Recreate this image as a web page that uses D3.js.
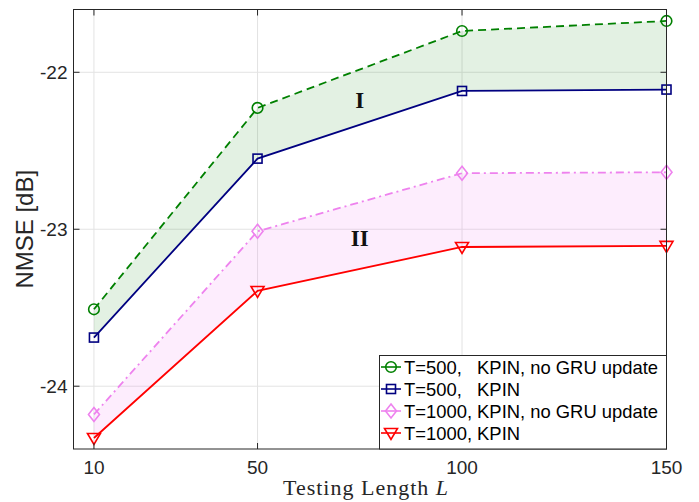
<!DOCTYPE html>
<html>
<head>
<meta charset="utf-8">
<script src="https://cdn.jsdelivr.net/npm/d3@7"></script>
<style>
body { margin: 0; background: #fff; }
text { font-family: "Liberation Sans", Arial, sans-serif; fill: #262626; }
</style>
</head>
<body>
<svg id="chart" width="699" height="502"></svg>
<script>
var lengths = [10, 50, 100, 150]
var xTicks = [10, 50, 100, 150]
var yTicks = [-24, -23, -22]

var t500NoGru = [-23.51, -22.227, -21.737, -21.673]
var t500Kpin = [-23.69, -22.55, -22.119, -22.11]
var t1000NoGru = [-24.18, -23.013, -22.643, -22.637]
var t1000Kpin = [-24.33, -23.393, -23.113, -23.106]

var legendNames = ["T=500,   KPIN, no GRU update", "T=500,   KPIN", "T=1000, KPIN, no GRU update", "T=1000, KPIN"]

var margins = {top: 9.5, right: 32.5, left: 73.5, bottom: 53}
var width = 699
var height = 502

var svg = d3.select("#chart")

var x = d3.scaleLinear().domain([5, 150]).range([margins.left, width - margins.right])
var y = d3.scaleLinear().domain([-24.4, -21.6]).range([height - margins.bottom, margins.top])

var series = [
    {name: legendNames[0], values: t500NoGru, color: "#008000", dash: "8,5", marker: "circle"},
    {name: legendNames[1], values: t500Kpin, color: "#000080", dash: null, marker: "square"},
    {name: legendNames[2], values: t1000NoGru, color: "#ee82ee", dash: "8,4,2,4", marker: "diamond"},
    {name: legendNames[3], values: t1000Kpin, color: "#ff0000", dash: null, marker: "triangle"}
]

// grid
svg.append("g").selectAll("line").data(xTicks).enter().append("line")
    .attr("x1", d => x(d)).attr("x2", d => x(d))
    .attr("y1", y.range()[0]).attr("y2", y.range()[1])
    .style("stroke", "#e3e3e3").style("stroke-width", 1)
svg.append("g").selectAll("line").data(yTicks).enter().append("line")
    .attr("y1", d => y(d)).attr("y2", d => y(d))
    .attr("x1", x.range()[0]).attr("x2", x.range()[1])
    .style("stroke", "#e3e3e3").style("stroke-width", 1)

// shaded bands
var band = function(top, bottom, color, op)
{
    var area = d3.area()
        .x((d, i) => x(lengths[i]))
        .y0((d, i) => y(bottom[i]))
        .y1((d, i) => y(top[i]))
    svg.append("path")
        .datum(top)
        .attr("d", area)
        .style("fill", color)
        .style("fill-opacity", op)
        .style("stroke", "none")
}
band(t500NoGru, t500Kpin, "#008000", 0.11)
band(t1000NoGru, t1000Kpin, "#ee82ee", 0.14)

// lines
var line = d3.line().x((d, i) => x(lengths[i])).y(d => y(d))
series.forEach(function(s)
{
    svg.append("path")
        .datum(s.values)
        .attr("d", line)
        .style("fill", "none")
        .style("stroke", s.color)
        .style("stroke-width", 1.8)
        .style("stroke-dasharray", s.dash)
})

var drawMarker = function(g, type, cx, cy, color)
{
    if (type == "circle")
    {
        g.append("circle").attr("cx", cx).attr("cy", cy).attr("r", 5.3)
            .style("fill", "none").style("stroke", color).style("stroke-width", 1.6)
    }
    else if (type == "square")
    {
        g.append("rect").attr("x", cx - 4.5).attr("y", cy - 4.5).attr("width", 9).attr("height", 9)
            .style("fill", "none").style("stroke", color).style("stroke-width", 1.6)
    }
    else if (type == "diamond")
    {
        g.append("path").attr("d", `M${cx},${cy - 7}L${cx + 5.5},${cy}L${cx},${cy + 7}L${cx - 5.5},${cy}Z`)
            .style("fill", "none").style("stroke", color).style("stroke-width", 1.6)
    }
    else
    {
        g.append("path").attr("d", `M${cx - 6.5},${cy - 4.5}L${cx + 6.5},${cy - 4.5}L${cx},${cy + 6.5}Z`)
            .style("fill", "none").style("stroke", color).style("stroke-width", 1.6)
    }
}

var markers = svg.append("g")
series.forEach(function(s)
{
    s.values.forEach(function(v, i)
    {
        drawMarker(markers, s.marker, x(lengths[i]), y(v), s.color)
    })
})

// region labels
svg.append("text").attr("x", x(75)).attr("y", 108)
    .attr("text-anchor", "middle")
    .style("font-family", "'Liberation Serif', serif").style("font-weight", "bold")
    .style("font-size", "23px").style("fill", "#111")
    .text("I")
svg.append("text").attr("x", x(75)).attr("y", 246)
    .attr("text-anchor", "middle")
    .style("font-family", "'Liberation Serif', serif").style("font-weight", "bold")
    .style("font-size", "23px").style("fill", "#111")
    .text("II")

// axes box and ticks
var x0 = x.range()[0], x1 = x.range()[1], y0 = y.range()[0], y1 = y.range()[1]
svg.append("rect").attr("x", x0).attr("y", y1).attr("width", x1 - x0).attr("height", y0 - y1)
    .style("fill", "none").style("stroke", "#262626").style("stroke-width", 1)

var tk = svg.append("g").style("stroke", "#262626").style("stroke-width", 1)
xTicks.forEach(function(t)
{
    tk.append("line").attr("x1", x(t)).attr("x2", x(t)).attr("y1", y0).attr("y2", y0 - 6)
    tk.append("line").attr("x1", x(t)).attr("x2", x(t)).attr("y1", y1).attr("y2", y1 + 6)
})
yTicks.forEach(function(t)
{
    tk.append("line").attr("y1", y(t)).attr("y2", y(t)).attr("x1", x0).attr("x2", x0 + 6)
    tk.append("line").attr("y1", y(t)).attr("y2", y(t)).attr("x1", x1).attr("x2", x1 - 6)
})

svg.append("g").selectAll("text").data(xTicks).enter().append("text")
    .attr("x", d => x(d)).attr("y", y0 + 25)
    .attr("text-anchor", "middle")
    .style("font-size", "19px")
    .text(d => d)
svg.append("g").selectAll("text").data(yTicks).enter().append("text")
    .attr("x", x0 - 6).attr("y", d => y(d) + 7)
    .attr("text-anchor", "end")
    .style("font-size", "19px")
    .text(d => d)

// axis titles
svg.append("text")
    .attr("transform", `translate(33,${(y0 + y1) / 2}) rotate(-90)`)
    .attr("text-anchor", "middle")
    .style("font-size", "24px")
    .text("NMSE [dB]")

var xl = svg.append("text")
    .attr("x", 366).attr("y", 495)
    .attr("text-anchor", "middle")
    .style("font-family", "'Liberation Serif', serif")
    .style("font-size", "22px")
    .style("letter-spacing", "1px")
xl.append("tspan").text("Testing Length ")
xl.append("tspan").style("font-style", "italic").text("L")

// legend
var lg = svg.append("g")
lg.append("rect").attr("x", 379.5).attr("y", 355.5).attr("width", x1 - 379.5).attr("height", y0 - 355.5)
    .style("fill", "#fff").style("stroke", "#262626").style("stroke-width", 1)
series.forEach(function(s, i)
{
    var ly = 367 + i * 22
    lg.append("line").attr("x1", 381).attr("x2", 401).attr("y1", ly).attr("y2", ly)
        .style("stroke", s.color).style("stroke-width", 1.6)
    drawMarker(lg, s.marker, 391, ly, s.color)
    lg.append("text").attr("x", 404).attr("y", ly + 6.5)
        .attr("xml:space", "preserve")
        .style("white-space", "pre")
        .style("font-size", "18.4px")
        .style("fill", "#000")
        .text(s.name)
})
</script>
</body>
</html>
